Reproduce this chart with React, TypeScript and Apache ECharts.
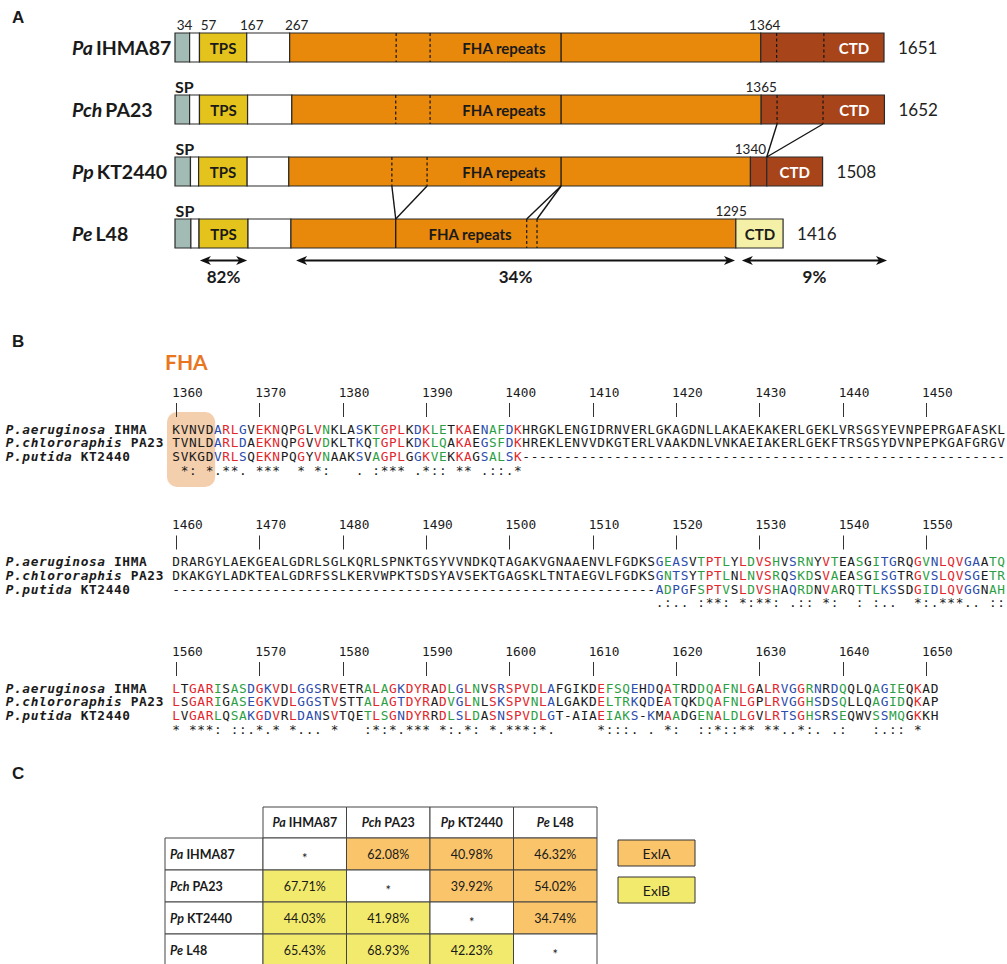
import React, { useEffect, useRef } from "react";
import * as echarts from "echarts";

// ================= DATA =================
// ---- Panel A: domain architecture ----
const strainAbbr = ["Pa", "Pch", "Pp", "Pe"];
const strainCode = ["IHMA87", "PA23", "KT2440", "L48"];
const proteinLength = [1651, 1652, 1508, 1416];

const boundsPa = [0, 34, 57, 167, 267, 1364, 1651];
const kindsPa = ["sp", "gap", "tps", "gap", "fha", "ctd"];
const boundsPch = [0, 34, 57, 169, 272, 1365, 1652];
const kindsPch = ["sp", "gap", "tps", "gap", "fha", "ctd"];
const boundsPp = [0, 36, 55, 168, 265, 1340, 1378, 1508];
const kindsPp = ["sp", "gap", "tps", "gap", "fha", "ctd", "ctd"];
const boundsPe = [0, 37, 56, 170, 270, 1306, 1416];
const kindsPe = ["sp", "gap", "tps", "gap", "fha", "ctdPale"];

const dashedPa = [515, 594, 1401, 1511];
const solidPa = [899];
const dashedPch = [514, 594, 1402, 1509];
const solidPch = [899];
const dashedPp = [505, 587];
const solidPp = [899];
const dashedPe = [819, 843];
const solidPe = [514];

// connectors: [row, residue] -> [row, residue]
const connectorFrom = [[1, 1402], [1, 1509], [2, 505], [2, 587], [2, 899], [2, 899]];
const connectorTo = [[2, 1378], [2, 1378], [3, 514], [3, 514], [3, 819], [3, 843]];

const siteLabelsPa = [34, 57, 167, 267, 1364];
const siteLabelsPch = [1365];
const siteLabelsPp = [1340];
const siteLabelsPe = [1295];

const fhaLabelAt = [766, 766, 766, 687];
const ctdLabelAt = [1581, 1582, 1443, 1362];

const arrowStart = [58, 282, 1320];
const arrowEnd = [168, 1304, 1658];
const arrowLabel = ["82%", "34%", "9%"];

// ---- Panel B: alignment ----
const seqNames = ["P.aeruginosa IHMA", "P.chlororaphis PA23", "P.putida KT2440"];
const rulerStart = [1360, 1460, 1560];

const pa1 = "KVNVDARLGVEKNQPGLVNKLASKTGPLKDKLETKAENAFDKHRGKLENGIDRNVERLGKAGDNLLAKAEKAKERLGEKLVRSGSYEVNPEPRGAFASKL";
const pch1 = "TVNLDARLDAEKNQPGVVDKLTKQTGPLKDKLQAKAEGSFDKHREKLENVVDKGTERLVAAKDNLVNKAEIAKERLGEKFTRSGSYDVNPEPKGAFGRGV";
const pp1 = "SVKGDVRLSQEKNPQGYVNAAKSVAGPLGGKVEKKAGSALSK----------------------------------------------------------";
const cons1 = " *: *.**. ***  * *:   . :*** .*:: ** .::.*";

const pa2 = "DRARGYLAEKGEALGDRLSGLKQRLSPNKTGSYVVNDKQTAGAKVGNAAENVLFGDKSGEASVTPTLYLDVSHVSRNYVTEASGITGRQGVNLQVGAATQ";
const pch2 = "DKAKGYLADKTEALGDRFSSLKERVWPKTSDSYAVSEKTGAGSKLTNTAEGVLFGDKSGNTSYTPTLNLNVSRQSKDSVAEASGISGTRGVSLQVSGETR";
const pp2 = "----------------------------------------------------------ADPGFSPTVSLDVSHAQRDNVARQTTLKSSDGIDLQVGGNAH";
const cons2 = "                                                          .:.. :**: *:**: .:: *:  : :..  *:.***.. ::";

const pa3 = "LTGARISASDGKVDLGGSRVETRALAGKDYRADLGLNVSRSPVDLAFGIKDEFSQEHDQATRDDQAFNLGALRVGGRNRDQQLQAGIEQKAD";
const pch3 = "LSGARIGASEGKVDLGGSTVSTTALAGTDYRADVGLNLSKSPVNLALGAKDELTRKQDEATQKDQAFNLGPLRVGGHSDSQLLQAGIDQKAP";
const pp3 = "LVGARLQSAKGDVRLDANSVTQETLSGNDYRRDLSLDASNSPVDLGT-AIAEIAKS-KMAADGENALDLGVLRTSGHSRSEQWVSSMQGKKH";
const cons3 = "* ***: ::.*.* *... *   :*:*.*** *:.*: *.***:*.     *:::. . *:  ::*::** **..*:. .:   :.:: *";

// ---- Panel C: identity table ----
const identityPa = [null, 62.08, 40.98, 46.32];
const identityPch = [67.71, null, 39.92, 54.02];
const identityPp = [44.03, 41.98, null, 34.74];
const identityPe = [65.43, 68.93, 42.23, null];
const groupPa = ["", "ExlA", "ExlA", "ExlA"];
const groupPch = ["ExlB", "", "ExlA", "ExlA"];
const groupPp = ["ExlB", "ExlB", "", "ExlA"];
const groupPe = ["ExlB", "ExlB", "ExlB", ""];
const legendGroups = ["ExlA", "ExlB"];

// ================= STYLE =================
const SANS = 'Lato, "Open Sans", sans-serif';
const MONO = '"DejaVu Sans Mono", monospace';
const INK = "#1a1a1a";
const RED = "#e2262c";
const GREEN = "#2c9f45";
const BLUE = "#2b4dad";
const ORANGE_CELL = "#f9c46a";
const YELLOW_CELL = "#f2ea6c";
const domainFill: Record<string, string> = {
  sp: "#a2bcb5",
  gap: "#ffffff",
  tps: "#e4c41c",
  fha: "#e8890b",
  ctd: "#a8441a",
  ctdPale: "#f5f0a8",
};

const BAR_H = 29;
const BLOCK_ROW0 = [429, 561.5, 688];
const ROW_H = 13.8;
const SEQ_FONT = 12.8;

function buildOption() {
  // ---------- panel A items ----------
  const allBounds = [boundsPa, boundsPch, boundsPp, boundsPe];
  const allKinds = [kindsPa, kindsPch, kindsPp, kindsPe];
  const segItems: any[] = [];
  allBounds.forEach((b, row) => {
    for (let i = 0; i < b.length - 1; i++) segItems.push({ s: b[i], e: b[i + 1], row, kind: allKinds[row][i] });
  });
  const sepItems: any[] = [];
  [dashedPa, dashedPch, dashedPp, dashedPe].forEach((arr, row) => arr.forEach((v) => sepItems.push({ v, row, dashed: true })));
  [solidPa, solidPch, solidPp, solidPe].forEach((arr, row) => arr.forEach((v) => sepItems.push({ v, row, dashed: false })));

  const textItems: any[] = [];
  segItems.forEach((sg) => {
    if (sg.kind === "tps") textItems.push({ v: (sg.s + sg.e) / 2, row: sg.row, text: "TPS", color: INK, dy: 0, size: 15, weight: "bold" });
  });
  fhaLabelAt.forEach((v, row) => textItems.push({ v, row, text: "FHA repeats", color: INK, dy: 0, size: 15, weight: "bold" }));
  ctdLabelAt.forEach((v, row) =>
    textItems.push({ v, row, text: "CTD", color: row === 3 ? INK : "#ffffff", dy: 0, size: 15, weight: "bold" })
  );
  const paDx = [-5, 9, 5, 7, 4];
  [siteLabelsPa, siteLabelsPch, siteLabelsPp, siteLabelsPe].forEach((arr, row) =>
    arr.forEach((v, i) =>
      textItems.push({ v, row, text: String(v), color: "#222", dy: -BAR_H / 2 - 8, dx: row === 0 ? paDx[i] : 0, size: 13.5, weight: "normal" })
    )
  );
  [1, 2, 3].forEach((row) =>
    textItems.push({ v: (allBounds[row][0] + allBounds[row][1]) / 2, row, text: "SP", color: INK, dy: -BAR_H / 2 - 9, dx: 2, size: 16, weight: "bold" })
  );
  proteinLength.forEach((len, row) =>
    textItems.push({ v: len, row, text: String(len), color: "#222", dy: 0, dx: 14, size: 17, weight: "normal", align: "left" })
  );

  const connItems = connectorFrom.map((f, i) => ({ r1: f[0], v1: f[1], r2: connectorTo[i][0], v2: connectorTo[i][1] }));

  // ---------- panel B items ----------
  const blocks = [
    [pa1, pch1, pp1, cons1],
    [pa2, pch2, pp2, cons2],
    [pa3, pch3, pp3, cons3],
  ];
  const colorOf = (c: string) => (c === "*" ? RED : c === ":" ? GREEN : c === "." ? BLUE : INK);
  const resItems: any[] = [];
  const rulerItems: any[] = [];
  blocks.forEach((bl, b) => {
    const cons = bl[3];
    for (let r = 0; r < 4; r++) {
      const s = bl[r];
      for (let c = 0; c < s.length; c++) {
        const ch = s[c];
        if (ch === " ") continue;
        let color = INK;
        if (r < 3 && ch !== "-") {
          color = colorOf(cons[c] || " ");
          if (b === 0 && c < 5) color = INK;
        }
        resItems.push({ b, r, c, ch, color, bold: false, italic: false });
      }
    }
    seqNames.forEach((nm, r) => {
      const sp = nm.indexOf(" ");
      for (let i = 0; i < nm.length; i++) {
        if (nm[i] === " ") continue;
        resItems.push({ b, r, c: i - 20, ch: nm[i], color: INK, bold: true, italic: i < sp });
      }
    });
    for (let k = 0; k < 10; k++) {
      const col = k * 10;
      if (col >= bl[0].length) break;
      rulerItems.push({ b, c: col, kind: "tick", text: "|" });
      rulerItems.push({ b, c: col, kind: "num", text: String(rulerStart[b] + col) });
    }
  });

  // ---------- panel C items ----------
  const idRows = [identityPa, identityPch, identityPp, identityPe];
  const grRows = [groupPa, groupPch, groupPp, groupPe];
  const cellItems: any[] = [];
  idRows.forEach((rowArr, r) =>
    rowArr.forEach((v, c) => {
      const g = grRows[r][c];
      cellItems.push({ c, r, v, fill: v == null ? "#ffffff" : g === "ExlA" ? ORANGE_CELL : YELLOW_CELL });
    })
  );

  const TBL_L = 263, TBL_T = 838, CELL_W = 83.5, CELL_H = 32, HDR_H = 31, HDR_L = 165;
  const graphic: any[] = [
    { type: "text", x: 12, y: 17, style: { text: "A", fontSize: 17, fontWeight: "bold", fontFamily: "Liberation Sans", fill: INK, verticalAlign: "middle" } },
    { type: "text", x: 12, y: 341, style: { text: "B", fontSize: 17, fontWeight: "bold", fontFamily: "Liberation Sans", fill: INK, verticalAlign: "middle" } },
    { type: "text", x: 12, y: 773, style: { text: "C", fontSize: 17, fontWeight: "bold", fontFamily: "Liberation Sans", fill: INK, verticalAlign: "middle" } },
    { type: "text", x: 165, y: 361, style: { text: "FHA", fontSize: 21, fontWeight: "bold", fontFamily: SANS, fill: "#e8761e", verticalAlign: "middle" } },
  ];
  for (let i = 0; i < 4; i++) {
    graphic.push({ type: "rect", shape: { x: TBL_L + i * CELL_W, y: TBL_T - HDR_H, width: CELL_W, height: HDR_H }, style: { fill: "#fff", stroke: "#444", lineWidth: 1 }, z: -1 });
    graphic.push({ type: "rect", shape: { x: HDR_L, y: TBL_T + i * CELL_H, width: TBL_L - HDR_L, height: CELL_H }, style: { fill: "#fff", stroke: "#444", lineWidth: 1 }, z: -1 });
  }
  legendGroups.forEach((g, i) => {
    graphic.push({ type: "rect", shape: { x: 618, y: 840 + i * 37, width: 77, height: 26 }, style: { fill: i === 0 ? ORANGE_CELL : YELLOW_CELL, stroke: "#333", lineWidth: 1 } });
    graphic.push({ type: "text", x: 656.5, y: 853 + i * 37, style: { text: g, fontSize: 14, fontFamily: SANS, fill: INK, align: "center", verticalAlign: "middle" } });
  });

  const tableLabel = (_v: any, i: number) => `{i|${strainAbbr[i]}} {b|${strainCode[i]}}`;
  const tblRich = {
    i: { fontStyle: "italic", fontWeight: "bold", fontSize: 12.5, fontFamily: SANS, color: INK },
    b: { fontWeight: "bold", fontSize: 12.5, fontFamily: SANS, color: INK },
  };

  return {
    animation: false,
    textStyle: { fontFamily: SANS },
    graphic,
    grid: [
      { left: 175, width: 709, top: 16.5, height: 248, outerBoundsMode: "none" },
      { left: 172, width: 833.33, top: 380, height: 360, outerBoundsMode: "none" },
      { left: TBL_L, width: 4 * CELL_W, top: TBL_T, height: 4 * CELL_H, outerBoundsMode: "none" },
    ],
    xAxis: [
      { gridIndex: 0, type: "value", min: 0, max: 1651, show: false },
      { gridIndex: 1, type: "value", min: -0.5, max: 99.5, show: false },
      {
        gridIndex: 2, type: "category", data: strainCode, position: "top",
        axisLine: { show: false }, axisTick: { show: false }, splitLine: { show: false },
        axisLabel: { formatter: tableLabel, rich: tblRich, margin: 16, verticalAlign: "middle", interval: 0 },
      },
    ],
    yAxis: [
      {
        gridIndex: 0, type: "category", data: strainCode, inverse: true,
        axisLine: { show: false }, axisTick: { show: false }, splitLine: { show: false },
        axisLabel: {
          formatter: (_v: any, i: number) => `{i|${strainAbbr[i]}} {b|${strainCode[i]}}`,
          align: "left", margin: 103, interval: 0,
          rich: {
            i: { fontStyle: "italic", fontWeight: "bold", fontSize: 19.5, fontFamily: SANS, color: INK },
            b: { fontWeight: "bold", fontSize: 19.5, fontFamily: SANS, color: INK },
          },
        },
      },
      { gridIndex: 1, type: "value", min: 0, max: 1, show: false },
      {
        gridIndex: 2, type: "category", data: strainCode, inverse: true,
        axisLine: { show: false }, axisTick: { show: false }, splitLine: { show: false },
        axisLabel: { formatter: tableLabel, rich: tblRich, align: "left", margin: 93, interval: 0 },
      },
    ],
    series: [
      // ---- A: domain segments ----
      {
        type: "custom", xAxisIndex: 0, yAxisIndex: 0, silent: true, clip: false, progressive: 0,
        data: segItems.map((s) => [s.s, s.row, s.e]),
        encode: { x: [0, 2], y: 1 },
        renderItem: (params: any, api: any) => {
          const sg = segItems[params.dataIndex];
          const p0 = api.coord([sg.s, sg.row]);
          const p1 = api.coord([sg.e, sg.row]);
          return {
            type: "rect",
            shape: { x: p0[0], y: p0[1] - BAR_H / 2, width: p1[0] - p0[0], height: BAR_H },
            style: { fill: domainFill[sg.kind], stroke: "#2a2a2a", lineWidth: 1.2 },
          };
        },
      },
      // ---- A: separators ----
      {
        type: "custom", xAxisIndex: 0, yAxisIndex: 0, silent: true, clip: false, z: 3, progressive: 0,
        data: sepItems.map((s) => [s.v, s.row]),
        encode: { x: 0, y: 1 },
        renderItem: (params: any, api: any) => {
          const sp = sepItems[params.dataIndex];
          const p = api.coord([sp.v, sp.row]);
          return {
            type: "line",
            shape: { x1: p[0], y1: p[1] - BAR_H / 2, x2: p[0], y2: p[1] + BAR_H / 2 },
            style: { stroke: "#151515", lineWidth: sp.dashed ? 1.2 : 1.3, lineDash: sp.dashed ? [3, 2.5] : null },
          };
        },
      },
      // ---- A: connectors ----
      {
        type: "custom", xAxisIndex: 0, yAxisIndex: 0, silent: true, clip: false, z: 3, progressive: 0,
        data: connItems.map((c) => [c.v1, c.r1]),
        encode: { x: 0, y: 1 },
        renderItem: (params: any, api: any) => {
          const c = connItems[params.dataIndex];
          const a = api.coord([c.v1, c.r1]);
          const b = api.coord([c.v2, c.r2]);
          return {
            type: "line",
            shape: { x1: a[0], y1: a[1] + BAR_H / 2, x2: b[0], y2: b[1] - BAR_H / 2 },
            style: { stroke: "#151515", lineWidth: 1.4 },
          };
        },
      },
      // ---- A: texts ----
      {
        type: "custom", xAxisIndex: 0, yAxisIndex: 0, silent: true, clip: false, z: 4, progressive: 0,
        data: textItems.map((t) => [t.v, t.row]),
        encode: { x: 0, y: 1 },
        renderItem: (params: any, api: any) => {
          const t = textItems[params.dataIndex];
          const p = api.coord([t.v, t.row]);
          return {
            type: "text",
            x: p[0] + (t.dx || 0),
            y: p[1] + t.dy,
            style: {
              text: t.text, fill: t.color, fontSize: t.size, fontWeight: t.weight, fontFamily: SANS,
              align: t.align || "center", verticalAlign: "middle",
            },
          };
        },
      },
      // ---- A: identity arrows ----
      {
        type: "custom", xAxisIndex: 0, yAxisIndex: 0, silent: true, clip: false, z: 4, progressive: 0,
        data: arrowStart.map((s, i) => [s, 3, arrowEnd[i]]),
        encode: { x: [0, 2], y: 1 },
        renderItem: (params: any, api: any) => {
          const i = params.dataIndex;
          const a = api.coord([arrowStart[i], 3]);
          const b = api.coord([arrowEnd[i], 3]);
          const y = a[1] + 27;
          const hl = 11, hw = 4.5;
          return {
            type: "group",
            children: [
              { type: "line", shape: { x1: a[0] + 4, y1: y, x2: b[0] - 4, y2: y }, style: { stroke: "#111", lineWidth: 2.2 } },
              { type: "polygon", shape: { points: [[a[0], y], [a[0] + hl, y - hw], [a[0] + hl - 3, y], [a[0] + hl, y + hw]] }, style: { fill: "#111" } },
              { type: "polygon", shape: { points: [[b[0], y], [b[0] - hl, y - hw], [b[0] - hl + 3, y], [b[0] - hl, y + hw]] }, style: { fill: "#111" } },
              {
                type: "text", x: (a[0] + b[0]) / 2, y: y + 16,
                style: { text: arrowLabel[i], fontSize: 17, fontWeight: "bold", fontFamily: SANS, fill: INK, align: "center", verticalAlign: "middle" },
              },
            ],
          };
        },
      },
      // ---- B: FHA highlight box ----
      {
        type: "custom", xAxisIndex: 1, yAxisIndex: 1, silent: true, clip: false, z: 1, progressive: 0,
        data: [[0, 0.5, 4]],
        encode: { x: [0, 2], y: 1 },
        renderItem: (_params: any, api: any) => {
          const x0 = api.coord([-0.5, 0.5])[0] - 5;
          const x1 = api.coord([4.5, 0.5])[0] + 1.5;
          return {
            type: "rect",
            shape: { x: x0, y: BLOCK_ROW0[0] - 17, width: x1 - x0, height: 75, r: 10 },
            style: { fill: "#f3cfae" },
          };
        },
      },
      // ---- B: ruler ----
      {
        type: "custom", xAxisIndex: 1, yAxisIndex: 1, silent: true, clip: false, z: 5, progressive: 0,
        data: rulerItems.map((it) => [it.c, 0.5]),
        encode: { x: 0, y: 1 },
        renderItem: (params: any, api: any) => {
          const it = rulerItems[params.dataIndex];
          const y0 = BLOCK_ROW0[it.b];
          if (it.kind === "tick") {
            const x = Math.round(api.coord([it.c, 0.5])[0]) + 0.5;
            return {
              type: "line",
              shape: { x1: x, y1: y0 - 26, x2: x, y2: y0 - 12 },
              style: { stroke: "#333", lineWidth: 1 },
            };
          }
          return {
            type: "text",
            x: api.coord([it.c - 0.5, 0.5])[0],
            y: y0 - 37,
            style: { text: it.text, fill: INK, fontSize: SEQ_FONT, fontFamily: MONO, align: "left", verticalAlign: "middle" },
          };
        },
      },
      // ---- B: alignment residues, names, conservation ----
      {
        type: "custom", xAxisIndex: 1, yAxisIndex: 1, silent: true, clip: false, z: 5, progressive: 0,
        data: resItems.map((it) => [it.c, 0.5]),
        encode: { x: 0, y: 1 },
        renderItem: (params: any, api: any) => {
          const it = resItems[params.dataIndex];
          return {
            type: "text",
            x: api.coord([it.c, 0.5])[0],
            y: BLOCK_ROW0[it.b] + it.r * ROW_H,
            style: {
              text: it.ch, fill: it.color, fontSize: SEQ_FONT, fontFamily: MONO,
              fontWeight: it.bold ? "bold" : "normal", fontStyle: it.italic ? "italic" : "normal",
              align: "center", verticalAlign: "middle",
            },
          };
        },
      },
      // ---- C: identity table cells ----
      {
        type: "custom", xAxisIndex: 2, yAxisIndex: 2, silent: true, clip: false, z: 2, progressive: 0,
        data: cellItems.map((it) => [it.c, it.r, it.v == null ? 0 : it.v]),
        encode: { x: 0, y: 1 },
        renderItem: (params: any, api: any) => {
          const it = cellItems[params.dataIndex];
          const p = api.coord([it.c, it.r]);
          const sz = api.size([1, 1]);
          return {
            type: "group",
            children: [
              {
                type: "rect",
                shape: { x: p[0] - sz[0] / 2, y: p[1] - sz[1] / 2, width: sz[0], height: sz[1] },
                style: { fill: it.fill, stroke: "#444", lineWidth: 1 },
              },
              {
                type: "text", x: p[0], y: p[1] + (it.v == null ? 4 : 0),
                style: {
                  text: it.v == null ? "*" : it.v.toFixed(2) + "%",
                  fill: INK, fontSize: it.v == null ? 13 : 12.5, fontFamily: SANS, align: "center", verticalAlign: "middle",
                },
              },
            ],
          };
        },
      },
    ],
  };
}

export default function App() {
  const ref = useRef<HTMLDivElement | null>(null);
  useEffect(() => {
    if (!ref.current) return;
    const chart = echarts.init(ref.current, null, { renderer: "svg" });
    chart.setOption(buildOption() as any);
    return () => chart.dispose();
  }, []);
  return (
    <div
      ref={ref}
      style={{ position: "absolute", left: 0, top: 0, width: 1007, height: 964, background: "#ffffff" }}
    />
  );
}
